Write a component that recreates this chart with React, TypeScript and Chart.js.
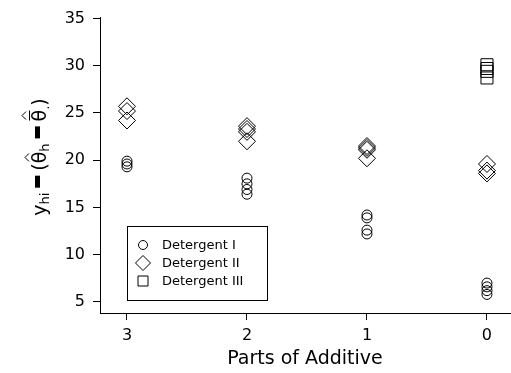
import React, { useEffect, useRef } from "react";
import { Chart, registerables } from "chart.js";

Chart.register(...registerables);

const FONT = '"DejaVu Sans", "Liberation Sans", Arial, sans-serif';

const xTickValues = [3, 2, 1, 0];
const yTickValues = [5, 10, 15, 20, 25, 30, 35];

const detIParts = [3, 3, 3, 2, 2, 2, 2, 1, 1, 1, 1, 0, 0, 0, 0];
const detIValues = [19.9, 19.6, 19.3, 18.1, 17.5, 16.9, 16.4, 14.2, 13.9, 12.6, 12.2, 7.0, 6.6, 6.2, 5.8];

const detIIParts = [3, 3, 3, 2, 2, 2, 2, 1, 1, 1, 1, 0, 0, 0];
const detIIValues = [25.7, 25.2, 24.2, 23.6, 23.3, 23.0, 22.0, 21.5, 21.3, 21.1, 20.2, 19.6, 18.9, 18.6];

const detIIIParts = [0, 0, 0, 0];
const detIIIValues = [30.1, 29.7, 29.4, 28.7];

const legendLabels = ["Detergent I", "Detergent II", "Detergent III"];
const xTitle = "Parts of Additive";

const toPoints = (xs: number[], ys: number[]) => xs.map((x, i) => ({ x, y: ys[i] }));

const drawYLabel = (ctx: CanvasRenderingContext2D) => {
  const fs = 19;
  const base = `${fs}px ${FONT}`;
  const sub = `${13}px ${FONT}`;
  type Item = { t?: string; f?: string; dy?: number; minus?: boolean; hat?: boolean; bar?: boolean; gap?: number };
  const items: Item[] = [
    { t: "y", f: base },
    { t: "hi", f: sub, dy: 3 },
    { gap: 5 },
    { minus: true },
    { gap: 5 },
    { t: "(", f: base },
    { t: "\u03b8", f: base, hat: true },
    { t: "h", f: sub, dy: 3 },
    { gap: 5 },
    { minus: true },
    { gap: 5 },
    { t: "\u03b8", f: base, hat: true, bar: true },
    { t: ".", f: sub, dy: 3 },
    { t: ")", f: base },
  ];
  ctx.save();
  const widths = items.map((it) => {
    if (it.gap) return it.gap;
    if (it.minus) return 12;
    ctx.font = it.f!;
    return ctx.measureText(it.t!).width;
  });
  const total = widths.reduce((a, b) => a + b, 0);
  ctx.translate(38, 157);
  ctx.rotate(-Math.PI / 2);
  ctx.fillStyle = "#000";
  ctx.strokeStyle = "#000";
  ctx.textBaseline = "alphabetic";
  ctx.textAlign = "left";
  const baseY = 8;
  let x = -total / 2;
  items.forEach((it, i) => {
    const w = widths[i];
    if (it.minus) {
      ctx.fillRect(x, baseY - 11, w, 5);
    } else if (it.t) {
      ctx.font = it.f!;
      ctx.fillText(it.t, x, baseY + (it.dy || 0));
      if (it.hat) {
        const cx = x + w / 2;
        ctx.lineWidth = 1;
        const top = it.bar ? baseY - 20 : baseY - 17;
        ctx.beginPath();
        ctx.moveTo(cx - 4, top);
        ctx.lineTo(cx, top - 4);
        ctx.lineTo(cx + 4, top);
        ctx.stroke();
        if (it.bar) {
          ctx.beginPath();
          ctx.moveTo(cx - 5, baseY - 16.5);
          ctx.lineTo(cx + 5, baseY - 16.5);
          ctx.stroke();
        }
      }
    }
    x += w;
  });
  ctx.restore();
};

const drawLegend = (ctx: CanvasRenderingContext2D) => {
  ctx.save();
  ctx.strokeStyle = "#000";
  ctx.lineWidth = 1;
  ctx.strokeRect(127.5, 226.5, 140, 74);
  const rows = [245, 263, 281];
  const sx = 143;
  ctx.font = `13px ${FONT}`;
  ctx.fillStyle = "#000";
  ctx.textBaseline = "middle";
  rows.forEach((ry, i) => {
    ctx.beginPath();
    if (i === 0) {
      ctx.arc(sx, ry, 4.5, 0, Math.PI * 2);
    } else if (i === 1) {
      ctx.moveTo(sx - 7.5, ry);
      ctx.lineTo(sx, ry - 7.5);
      ctx.lineTo(sx + 7.5, ry);
      ctx.lineTo(sx, ry + 7.5);
      ctx.closePath();
    } else {
      ctx.rect(sx - 5, ry - 5, 10, 10);
    }
    ctx.stroke();
    ctx.fillText(legendLabels[i], 162, ry + 1);
  });
  ctx.restore();
};

const customPlugin = {
  id: "customDraw",
  afterDraw(chart: any) {
    const ctx = chart.ctx as CanvasRenderingContext2D;
    drawYLabel(ctx);
    drawLegend(ctx);
  },
};

export default function App() {
  const ref = useRef<HTMLCanvasElement | null>(null);
  useEffect(() => {
    if (!ref.current) return;
    const common = {
      showLine: false,
      borderColor: "#000",
      backgroundColor: "rgba(0,0,0,0)",
      pointBackgroundColor: "rgba(0,0,0,0)",
      pointBorderColor: "#000",
      pointBorderWidth: 1,
      clip: false,
    };
    const chart = new Chart(ref.current, {
      type: "scatter",
      data: {
        datasets: [
          { ...common, label: legendLabels[0], data: toPoints(detIParts, detIValues), pointStyle: "circle", pointRadius: 5 },
          { ...common, label: legendLabels[1], data: toPoints(detIIParts, detIIValues), pointStyle: "rectRot", pointRadius: 8.5 },
          { ...common, label: legendLabels[2], data: toPoints(detIIIParts, detIIIValues), pointStyle: "rect", pointRadius: 8.5 },
        ],
      },
      options: {
        animation: false,
        responsive: false,
        devicePixelRatio: 1,
        layout: { autoPadding: false, padding: { top: 17, right: 1, left: 0, bottom: 0 } },
        plugins: { legend: { display: false }, tooltip: { enabled: false } },
        scales: {
          x: {
            type: "linear",
            reverse: true,
            min: -0.192,
            max: 3.225,
            afterBuildTicks: (s: any) => {
              s.ticks = xTickValues.map((v) => ({ value: v }));
            },
            afterFit: (s: any) => {
              s.height = 60;
              s.paddingLeft = 0;
              s.paddingRight = 0;
            },
            ticks: { color: "#000", font: { family: FONT, size: 16 }, padding: 6, maxRotation: 0 },
            grid: { display: true, drawOnChartArea: false, drawTicks: true, tickLength: 7, color: "#000", lineWidth: 1 },
            border: { display: true, color: "#000", width: 1 },
            title: { display: true, text: xTitle, color: "#000", font: { family: FONT, size: 19 }, padding: { top: 0, bottom: 3 } },
          },
          y: {
            type: "linear",
            min: 3.834,
            max: 35.15,
            afterBuildTicks: (s: any) => {
              s.ticks = yTickValues.map((v) => ({ value: v }));
            },
            afterFit: (s: any) => {
              s.width = 100;
              s.paddingTop = 0;
              s.paddingBottom = 0;
            },
            ticks: { color: "#000", font: { family: FONT, size: 16 }, padding: 8 },
            grid: { display: true, drawOnChartArea: false, drawTicks: true, tickLength: 7, color: "#000", lineWidth: 1 },
            border: { display: true, color: "#000", width: 1 },
          },
        },
      },
      plugins: [customPlugin],
    } as any);
    return () => chart.destroy();
  }, []);
  return (
    <div style={{ position: "fixed", left: 0, top: 0, width: 511, height: 373, background: "#fff" }}>
      <canvas ref={ref} width={511} height={373} style={{ width: 511, height: 373, display: "block" }} />
    </div>
  );
}
